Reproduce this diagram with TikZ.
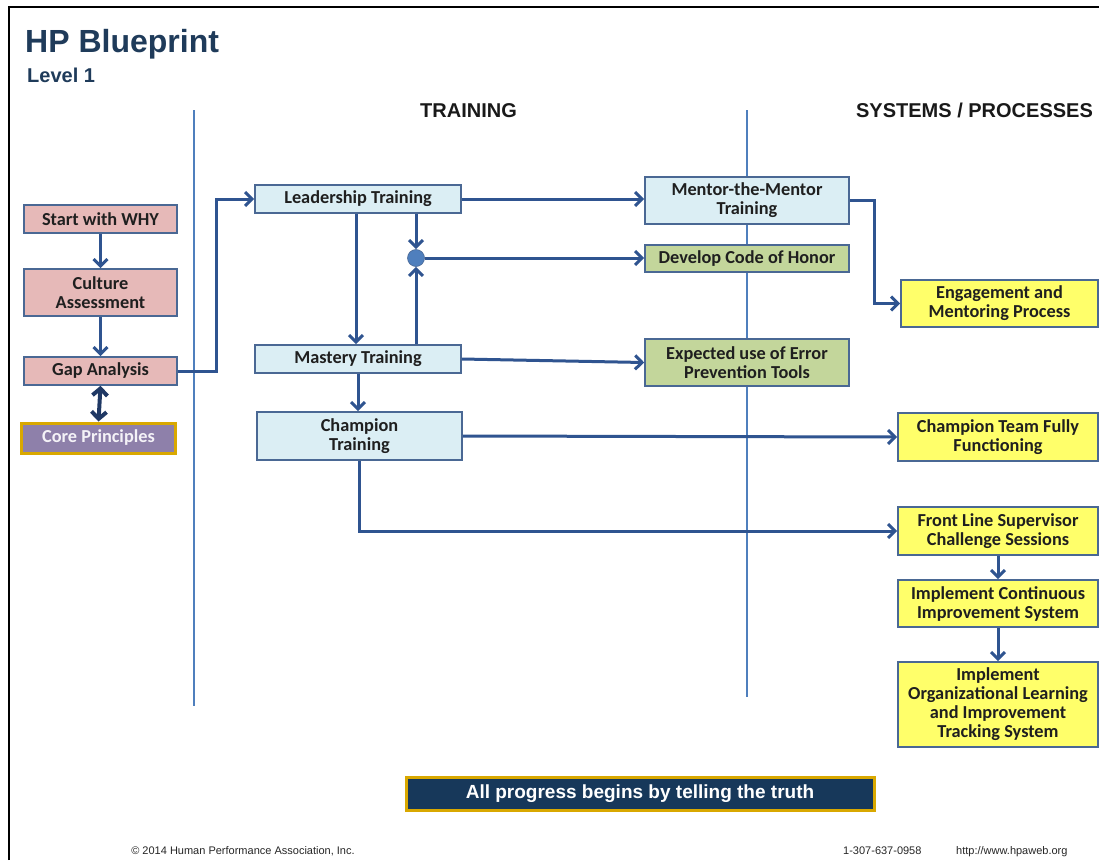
\documentclass[tikz,border=0pt]{standalone}
\usepackage{fontspec}
\setmainfont{Liberation Sans}
\newfontfamily\boxfont{Carlito}
\usetikzlibrary{arrows.meta}
\definecolor{navy}{HTML}{1F3B5A}
\definecolor{lnk}{HTML}{2F5490}
\definecolor{bord}{HTML}{4A6894}
\definecolor{pinkf}{HTML}{E6B9B8}
\definecolor{bluef}{HTML}{DBEEF4}
\definecolor{greenf}{HTML}{C3D69B}
\definecolor{yelf}{HTML}{FFFF6A}
\definecolor{purf}{HTML}{8E80AA}
\definecolor{goldb}{HTML}{D9A800}
\definecolor{divl}{HTML}{4F7FBD}
\definecolor{banf}{HTML}{17385A}
\definecolor{dnavy}{HTML}{1F3864}
\begin{document}
\begin{tikzpicture}[x=1pt,y=-1pt,
  box/.style={draw=bord, line width=1.6pt, inner sep=0pt, align=center,
    font=\boxfont\bfseries\fontsize{18.3}{19}\selectfont, text=black!88},
  pinkbox/.style={box, fill=pinkf},
  bluebox/.style={box, fill=bluef},
  greenbox/.style={box, fill=greenf},
  yelbox/.style={box, fill=yelf},
  corebox/.style={box, fill=purf, draw=goldb, line width=3pt, text=white!90!purf},
  conn/.style={draw=lnk, line width=3pt, -{Straight Barb[length=7pt,width=14pt]}},
  dconn/.style={draw=dnavy, line width=4pt, {Straight Barb[length=7pt,width=15pt]}-{Straight Barb[length=7pt,width=15pt]}},
  divider/.style={draw=divl, line width=1.2pt},
  head/.style={font=\bfseries\fontsize{20}{24}\selectfont, text=black!90},
  foot/.style={font=\fontsize{11}{13}\selectfont, text=black!85}
]
\useasboundingbox (0,0) rectangle (1099,860);
\fill[white] (0,0) rectangle (1099,860);
\draw[black, line width=2.5pt] (9,860) -- (9,7) -- (1099,7);

% titles
\node[anchor=base west, inner sep=0pt, font=\bfseries\fontsize{32}{36}\selectfont, text=navy] (title) at (25,52) {HP Blueprint};
\node[anchor=base west, inner sep=0pt, font=\bfseries\fontsize{20}{24}\selectfont, text=navy] (level) at (27,82) {Level 1};
\node[head, anchor=base, inner sep=0pt] (training) at (468.5,117) {TRAINING};
\node[head, anchor=base, inner sep=0pt] (systems) at (974.5,117) {SYSTEMS / PROCESSES};

% dividers
\draw[divider] (194,110) -- (194,706);
\draw[divider] (747,110) -- (747,697);

% left column
\node[pinkbox, minimum width=153, minimum height=28] (why) at (100.5,219) {Start with WHY};
\node[pinkbox, minimum width=153, minimum height=47] (cult) at (100.5,292.5) {Culture\\Assessment};
\node[pinkbox, minimum width=153, minimum height=28] (gap) at (100.5,371) {Gap Analysis};
\node[corebox, minimum width=154, minimum height=30] (core) at (98.5,438) {Core Principles};

% training column
\node[bluebox, minimum width=206, minimum height=28] (lead) at (358,199) {Leadership Training};
\node[bluebox, minimum width=206, minimum height=28] (mast) at (358,359) {Mastery Training};
\node[bluebox, minimum width=205, minimum height=48] (champ) at (359.5,436) {Champion\\Training};
\node[circle, fill=divl, draw=bord, line width=0.6pt, minimum size=17pt, inner sep=0pt] (dot) at (416,258) {};

% middle column
\node[bluebox, minimum width=204, minimum height=47] (mentor) at (747,200.5) {Mentor-the-Mentor\\Training};
\node[greenbox, minimum width=204, minimum height=27] (code) at (747,258.5) {Develop Code of Honor};
\node[greenbox, minimum width=204, minimum height=47] (expect) at (747,362.5) {Expected use of Error\\Prevention Tools};

% right column
\node[yelbox, minimum width=197, minimum height=47] (engage) at (999.5,303.5) {Engagement and\\Mentoring Process};
\node[yelbox, minimum width=200, minimum height=48] (cteam) at (998,437) {Champion Team Fully\\Functioning};
\node[yelbox, minimum width=200, minimum height=48] (front) at (998,531) {Front Line Supervisor\\Challenge Sessions};
\node[yelbox, minimum width=200, minimum height=47] (ici) at (998,603.5) {Implement Continuous\\Improvement System};
\node[yelbox, minimum width=200, minimum height=85] (iol) at (998,704.5) {Implement\\Organizational Learning\\and Improvement\\Tracking System};

% banner
\node[draw=goldb, line width=3pt, fill=banf, minimum width=468, minimum height=33, inner sep=0pt,
  text=white, font=\bfseries\fontsize{19}{22}\selectfont] (banner) at (640,793.5) {All progress begins by telling the truth};

% footer
\node[foot, anchor=base, inner sep=0pt] (copy) at (243,854) {\textcopyright{} 2014 Human Performance Association, Inc.};
\node[foot, anchor=base west, inner sep=0pt] (phone) at (843,854) {1-307-637-0958};
\node[foot, anchor=base west, inner sep=0pt] (web) at (956,854) {http://www.hpaweb.org};

% connectors
\draw[conn] (why.south) -- (cult.north);
\draw[conn] (cult.south) -- (gap.north);
\draw[dconn] (gap.south) -- (core.north);
\draw[conn] (gap.east) -- ++(39,0) |- (lead.west);
\draw[conn] (lead.east) -- (lead.east -| mentor.west);
\draw[conn] ([xshift=-2pt]lead.south) -- ([xshift=-2pt]lead.south |- mast.north);
\draw[conn] (lead.south -| dot) -- (dot.north);
\draw[conn] (mast.north -| dot) -- (dot.south);
\draw[conn] (dot.east) -- (dot -| code.west);
\draw[conn] (mast.east) -- (expect.west);
\draw[conn] (mast.south) -- (mast.south |- champ.north);
\draw[conn] (champ.east) -- (cteam.west);
\draw[conn] (champ.south) |- (front.west);
\draw[conn] (mentor.east) -- ++(25,0) |- (engage.west);
\draw[conn] (front.south) -- (ici.north);
\draw[conn] (ici.south) -- (iol.north);
\end{tikzpicture}
\end{document}
